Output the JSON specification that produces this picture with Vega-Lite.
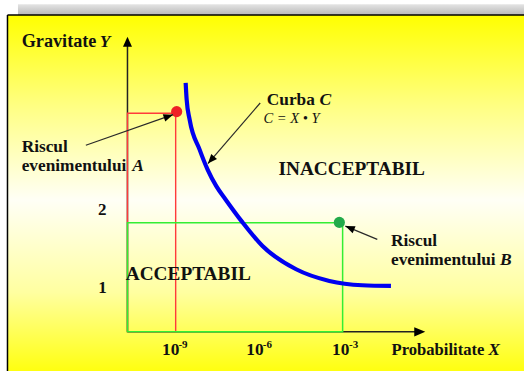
{
  "$schema": "https://vega.github.io/schema/vega-lite/v6.json",
  "width": 525,
  "height": 372,
  "autosize": {"type": "fit", "contains": "padding"},
  "padding": 0,
  "background": "#ffffff",
  "config": {"view": {"stroke": null}},
  "datasets": {
    "frame": [{"x": -15.044, "x2": 3.518, "y": -0.0909, "y2": 4.545}],
    "band": [{"x": -14.667, "x2": 3.518, "y": 4.545, "y2": 4.684}],
    "border": [
      {"x": -15.044, "y": -0.0909, "x2": -15.044, "y2": 4.545},
      {"x": -15.044, "y": 4.545, "x2": 3.518, "y2": 4.545}
    ],
    "axes": [
      {"x": -10.732, "y": 0.419, "x2": -10.732, "y2": 4.143},
      {"x": -10.732, "y": 0.419, "x2": -0.212, "y2": 0.419}
    ],
    "yArrow": [{"x": -10.732, "y": 4.26}],
    "xArrow": [{"x": -0.03, "y": 0.419}],
    "redRect": [{"x": -10.732, "x2": -9.0, "y": 0.419, "y2": 3.266}],
    "greenRect": [{"x": -10.732, "x2": -3.0, "y": 0.419, "y2": 1.84}],
    "curve": [
      {"x": -8.641, "y": 3.662},
      {"x": -8.605, "y": 3.442},
      {"x": -8.498, "y": 3.182},
      {"x": -8.139, "y": 2.792},
      {"x": -7.852, "y": 2.532},
      {"x": -7.54, "y": 2.316},
      {"x": -7.207, "y": 2.143},
      {"x": -6.597, "y": 1.844},
      {"x": -5.879, "y": 1.536},
      {"x": -4.671, "y": 1.234},
      {"x": -3.476, "y": 1.082},
      {"x": -2.293, "y": 1.026},
      {"x": -1.263, "y": 1.017}
    ],
    "ptA": [{"x": -8.964, "y": 3.286}],
    "ptB": [{"x": -3.118, "y": 1.844}],
    "pointers": [
      {"x": -12.228, "y": 2.848, "x2": -9.097, "y2": 3.247},
      {"x": -5.962, "y": 3.399, "x2": -7.841, "y2": 2.61},
      {"x": -1.755, "y": 1.623, "x2": -2.902, "y2": 1.796}
    ],
    "headA": [{"x": -9.097, "y": 3.247}],
    "headC": [{"x": -7.841, "y": 2.61}],
    "headB": [{"x": -2.902, "y": 1.796}],
    "txtTitleY": [
      {"x": -14.534, "y": 4.134, "t": "Gravitate"}
    ],
    "txtBold": [
      {"x": -14.534, "y": 2.766, "t": "Riscul"},
      {"x": -14.534, "y": 2.51, "t": "evenimentului"},
      {"x": -5.725, "y": 3.377, "t": "Curba"},
      {"x": -1.263, "y": 1.536, "t": "Riscul"},
      {"x": -1.263, "y": 1.29, "t": "evenimentului"},
      {"x": -9.491, "y": 0.117, "t": "10"},
      {"x": -6.464, "y": 0.117, "t": "10"},
      {"x": -3.379, "y": 0.117, "t": "10"}
    ],
    "txtAxisTitle": [
      {"x": -1.242, "y": 0.117, "t": "Probabilitate"}
    ],
    "txtBoldItalic": [
      {"x": -11.726, "y": 4.134, "t": "Y"},
      {"x": -10.56, "y": 2.51, "t": "A"},
      {"x": -3.835, "y": 3.377, "t": "C"},
      {"x": 2.657, "y": 1.29, "t": "B"},
      {"x": 2.23, "y": 0.117, "t": "X"}
    ],
    "txtCenter": [
      {"x": -11.636, "y": 1.935, "t": "2"},
      {"x": -11.629, "y": 0.931, "t": "1"}
    ],
    "txtBig": [
      {"x": -5.306, "y": 2.455, "t": "INACCEPTABIL"},
      {"x": -10.793, "y": 1.095, "t": "ACCEPTABIL"}
    ],
    "txtItalic": [{"x": -5.844, "y": 3.139, "t": "C = X • Y"}],
    "txtSup": [
      {"x": -8.9, "y": 0.204, "t": "-9"},
      {"x": -5.869, "y": 0.204, "t": "-6"},
      {"x": -2.767, "y": 0.204, "t": "-3"}
    ]
  },
  "encoding": {
    "x": {"field": "x", "type": "quantitative", "axis": null,
          "scale": {"domain": [-15.313, 3.518], "nice": false, "zero": false}},
    "y": {"field": "y", "type": "quantitative", "axis": null,
          "scale": {"domain": [-0.0909, 4.74], "nice": false, "zero": false}}
  },
  "layer": [
    {
      "data": {"name": "frame"},
      "mark": {"type": "rect", "stroke": null,
        "fill": {"gradient": "linear", "x1": 0, "y1": 0, "x2": 0, "y2": 1,
          "stops": [
            {"offset": 0, "color": "#ffff00"},
            {"offset": 0.25, "color": "#ffff80"},
            {"offset": 0.52, "color": "#fffff6"},
            {"offset": 0.78, "color": "#ffffa0"},
            {"offset": 1, "color": "#ffff10"}
          ]}},
      "encoding": {"x2": {"field": "x2"}, "y2": {"field": "y2"}}
    },
    {
      "data": {"name": "band"},
      "mark": {"type": "rect", "stroke": null,
        "fill": {"gradient": "linear", "x1": 0, "y1": 0, "x2": 0, "y2": 1,
          "stops": [
            {"offset": 0, "color": "#e4e4e4"},
            {"offset": 1, "color": "#b8b8b8"}
          ]}},
      "encoding": {"x2": {"field": "x2"}, "y2": {"field": "y2"}}
    },
    {
      "data": {"name": "border"},
      "mark": {"type": "rule", "color": "#000000", "strokeWidth": 1.5},
      "encoding": {"x2": {"field": "x2"}, "y2": {"field": "y2"}}
    },
    {
      "data": {"name": "axes"},
      "mark": {"type": "rule", "color": "#222222", "strokeWidth": 1.5},
      "encoding": {"x2": {"field": "x2"}, "y2": {"field": "y2"}}
    },
    {
      "data": {"name": "yArrow"},
      "mark": {"type": "point", "shape": "M0,0L-2,0.9L-2,-0.9Z", "filled": true,
               "color": "#000000", "opacity": 1, "size": 100, "angle": 270, "strokeWidth": 0}
    },
    {
      "data": {"name": "xArrow"},
      "mark": {"type": "point", "shape": "M0,0L-2,0.85L-2,-0.85Z", "filled": true,
               "color": "#000000", "opacity": 1, "size": 121, "angle": 0, "strokeWidth": 0}
    },
    {
      "data": {"name": "redRect"},
      "mark": {"type": "rect", "fill": "transparent", "stroke": "#ff3b3b", "strokeWidth": 1.4},
      "encoding": {"x2": {"field": "x2"}, "y2": {"field": "y2"}}
    },
    {
      "data": {"name": "greenRect"},
      "mark": {"type": "rect", "fill": "transparent", "stroke": "#33ee33", "strokeWidth": 1.5},
      "encoding": {"x2": {"field": "x2"}, "y2": {"field": "y2"}}
    },
    {
      "data": {"name": "curve"},
      "mark": {"type": "line", "color": "#0000f0", "strokeWidth": 4.2, "interpolate": "monotone", "strokeCap": "butt"}
    },
    {
      "data": {"name": "ptA"},
      "mark": {"type": "circle", "color": "#ee2026", "opacity": 1, "size": 125}
    },
    {
      "data": {"name": "ptB"},
      "mark": {"type": "circle", "color": "#22aa4a", "opacity": 1, "size": 125}
    },
    {
      "data": {"name": "pointers"},
      "mark": {"type": "rule", "color": "#2a2a2a", "strokeWidth": 1.2},
      "encoding": {"x2": {"field": "x2"}, "y2": {"field": "y2"}}
    },
    {
      "data": {"name": "headA"},
      "mark": {"type": "point", "shape": "M0,0L-2,0.8L-2,-0.8Z", "filled": true,
               "color": "#000000", "opacity": 1, "size": 90, "angle": 340.6, "strokeWidth": 0}
    },
    {
      "data": {"name": "headC"},
      "mark": {"type": "point", "shape": "M0,0L-2,0.8L-2,-0.8Z", "filled": true,
               "color": "#000000", "opacity": 1, "size": 90, "angle": 130.8, "strokeWidth": 0}
    },
    {
      "data": {"name": "headB"},
      "mark": {"type": "point", "shape": "M0,0L-2,0.8L-2,-0.8Z", "filled": true,
               "color": "#000000", "opacity": 1, "size": 90, "angle": 202.6, "strokeWidth": 0}
    },
    {
      "data": {"name": "txtTitleY"},
      "mark": {"type": "text", "font": "Liberation Serif", "fontWeight": "bold", "fontSize": 18.2,
               "align": "left", "baseline": "alphabetic", "color": "#111111"},
      "encoding": {"text": {"field": "t"}}
    },
    {
      "data": {"name": "txtBold"},
      "mark": {"type": "text", "font": "Liberation Serif", "fontWeight": "bold", "fontSize": 17.3,
               "align": "left", "baseline": "alphabetic", "color": "#111111"},
      "encoding": {"text": {"field": "t"}}
    },
    {
      "data": {"name": "txtAxisTitle"},
      "mark": {"type": "text", "font": "Liberation Serif", "fontWeight": "bold", "fontSize": 16.6,
               "align": "left", "baseline": "alphabetic", "color": "#111111"},
      "encoding": {"text": {"field": "t"}}
    },
    {
      "data": {"name": "txtBoldItalic"},
      "mark": {"type": "text", "font": "Liberation Serif", "fontWeight": "bold", "fontStyle": "italic", "fontSize": 17.5,
               "align": "left", "baseline": "alphabetic", "color": "#111111"},
      "encoding": {"text": {"field": "t"}}
    },
    {
      "data": {"name": "txtCenter"},
      "mark": {"type": "text", "font": "Liberation Serif", "fontWeight": "bold", "fontSize": 17,
               "align": "center", "baseline": "alphabetic", "color": "#111111"},
      "encoding": {"text": {"field": "t"}}
    },
    {
      "data": {"name": "txtBig"},
      "mark": {"type": "text", "font": "Liberation Serif", "fontWeight": "bold", "fontSize": 19.3,
               "align": "left", "baseline": "alphabetic", "color": "#111111"},
      "encoding": {"text": {"field": "t"}}
    },
    {
      "data": {"name": "txtItalic"},
      "mark": {"type": "text", "font": "Liberation Serif", "fontStyle": "italic", "fontSize": 14.5,
               "align": "left", "baseline": "alphabetic", "color": "#111111"},
      "encoding": {"text": {"field": "t"}}
    },
    {
      "data": {"name": "txtSup"},
      "mark": {"type": "text", "font": "Liberation Serif", "fontWeight": "bold", "fontSize": 11,
               "align": "left", "baseline": "alphabetic", "color": "#111111"},
      "encoding": {"text": {"field": "t"}}
    }
  ]
}
